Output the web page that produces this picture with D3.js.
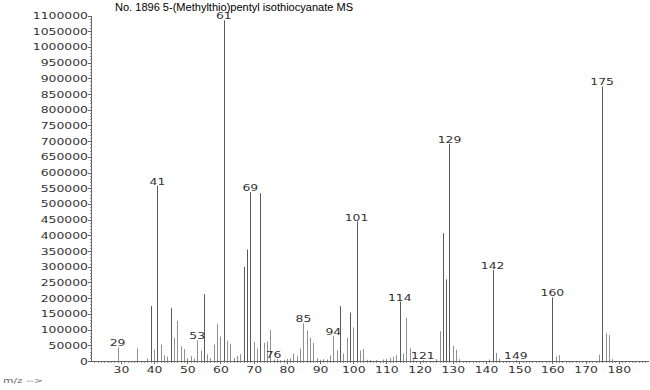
<!DOCTYPE html>
<meta charset="utf-8">
<html>
<style>
body { margin: 0; background: #fff; }
.lbl { font: 8px "DejaVu Sans", sans-serif; fill: #333; }
.title { font: 11px "Liberation Sans", Arial, sans-serif; fill: #000; }
.axis path, .axis line { stroke: #666; shape-rendering: crispEdges; }
.minor line { stroke: #999; }
</style>
<svg width="650" height="390"></svg>
<script src="https://d3js.org/d3.v7.min.js"></script>
<script>
// m/z values and abundances
var mz = [29, 35, 38, 39, 40, 41, 42, 43, 44, 45, 46, 47, 48, 49, 50, 51, 52, 53, 54, 55,
  56, 57, 58, 59, 60, 61, 62, 63, 64, 65, 66, 67, 68, 69, 70, 71, 72, 73, 74, 75,
  76, 77, 78, 79, 80, 81, 82, 83, 84, 85, 86, 87, 88, 89, 90, 91, 92, 93, 94, 95,
  96, 97, 98, 99, 100, 101, 102, 103, 104, 105, 107, 109, 110, 111, 112, 113, 114, 115, 116, 117,
  118, 121, 125, 126, 127, 128, 129, 130, 131, 132, 141, 142, 143, 144, 149, 160, 161, 162, 174, 175,
  176, 177, 178];
var abundance = [44000, 40000, 8000, 175000, 36000, 558000, 52000, 18000, 14000, 168000, 73000, 128000, 47000, 38000, 9000, 16000, 8000, 66000, 33000, 213000,
  21000, 9000, 52000, 117000, 78000, 1085000, 64000, 55000, 10000, 16000, 22000, 300000, 355000, 538000, 61000, 40000, 534000, 58000, 62000, 99000,
  5000, 6000, 3000, 4000, 7000, 9000, 24000, 15000, 40000, 120000, 97000, 74000, 58000, 9000, 4000, 6000, 5000, 18000, 80000, 34000,
  175000, 24000, 74000, 154000, 107000, 444000, 33000, 38000, 4000, 3000, 3000, 5000, 6000, 10000, 14000, 18000, 189000, 24000, 138000, 40000,
  6000, 3000, 6000, 95000, 407000, 260000, 691000, 48000, 36000, 6000, 5000, 290000, 26000, 7000, 2000, 203000, 15000, 19000, 20000, 874000,
  88000, 83000, 6000];
var labeled = [29, 41, 53, 61, 69, 76, 85, 94, 101, 114, 121, 129, 142, 149, 160, 175];
var yTicks = d3.range(0, 1100001, 50000);
var xTicks = d3.range(30, 181, 10);
var title = "No. 1896 5-(Methylthio)pentyl isothiocyanate MS";

var svg = d3.select("svg");
var sx = 1.55; // the digits in the scan are wide and short

var x = d3.scaleLinear().domain([21, 188.8]).range([91, 648]);
var y = d3.scaleLinear().domain([0, 1100000]).range([361, 15.5]);

var peaks = mz.map((m, i) => ({ m: m, v: abundance[i] }));

// minor ticks
svg.append("g")
    .attr("class", "axis minor")
    .attr("transform", "translate(91,0)")
    .call(d3.axisLeft(y).tickValues(d3.range(0, 1100001, 10000)).tickSize(1.5).tickFormat(""))
    .select(".domain").remove();
svg.append("g")
    .attr("class", "axis minor")
    .attr("transform", "translate(0,361)")
    .call(d3.axisBottom(x).tickValues(d3.range(22, 189, 1)).tickSize(1.5).tickFormat(""))
    .select(".domain").remove();

var yAxis = svg.append("g")
    .attr("class", "axis")
    .attr("transform", "translate(91,0)")
    .call(d3.axisLeft(y).tickValues(yTicks).tickSize(3).tickSizeOuter(0).tickFormat(d3.format("d")));
yAxis.selectAll("text")
    .attr("class", "lbl")
    .attr("x", null).attr("dy", null)
    .attr("transform", "translate(-3,3) scale(" + sx + ",1)")
    .attr("fill", null);
yAxis.attr("font-size", null).attr("font-family", null);

var xAxis = svg.append("g")
    .attr("class", "axis")
    .attr("transform", "translate(0,361)")
    .call(d3.axisBottom(x).tickValues(xTicks).tickSize(2.5).tickSizeOuter(0));
xAxis.selectAll("text")
    .attr("class", "lbl")
    .attr("y", null).attr("dy", null)
    .attr("transform", "translate(0,12) scale(" + sx + ",1)")
    .attr("fill", null);
xAxis.attr("font-size", null).attr("font-family", null);

// peaks
svg.append("g")
  .selectAll("line")
  .data(peaks)
  .join("line")
    .attr("x1", d => Math.round(x(d.m)) + 0.5)
    .attr("x2", d => Math.round(x(d.m)) + 0.5)
    .attr("y1", y(0))
    .attr("y2", d => y(d.v))
    .attr("stroke", d => d.v > 150000 ? "#5a5a5a" : "#909090")
    .attr("stroke-width", 1);

svg.append("g")
  .selectAll("text")
  .data(peaks.filter(d => labeled.includes(d.m)))
  .join("text")
    .attr("class", "lbl")
    .attr("text-anchor", "middle")
    .attr("transform", d => "translate(" + x(d.m) + "," + (y(d.v) - 1) + ") scale(" + sx + ",1)")
    .text(d => d.m);

svg.append("text")
    .attr("class", "title")
    .attr("x", 115)
    .attr("y", 11)
    .attr("textLength", 238)
    .attr("lengthAdjust", "spacingAndGlyphs")
    .text(title);

svg.append("text")
    .attr("class", "lbl")
    .attr("x", 3)
    .attr("y", 383)
    .attr("textLength", 40)
    .attr("lengthAdjust", "spacingAndGlyphs")
    .style("font-size", "7px")
    .style("fill", "#666")
    .text("m/z -->");
</script>
</html>
